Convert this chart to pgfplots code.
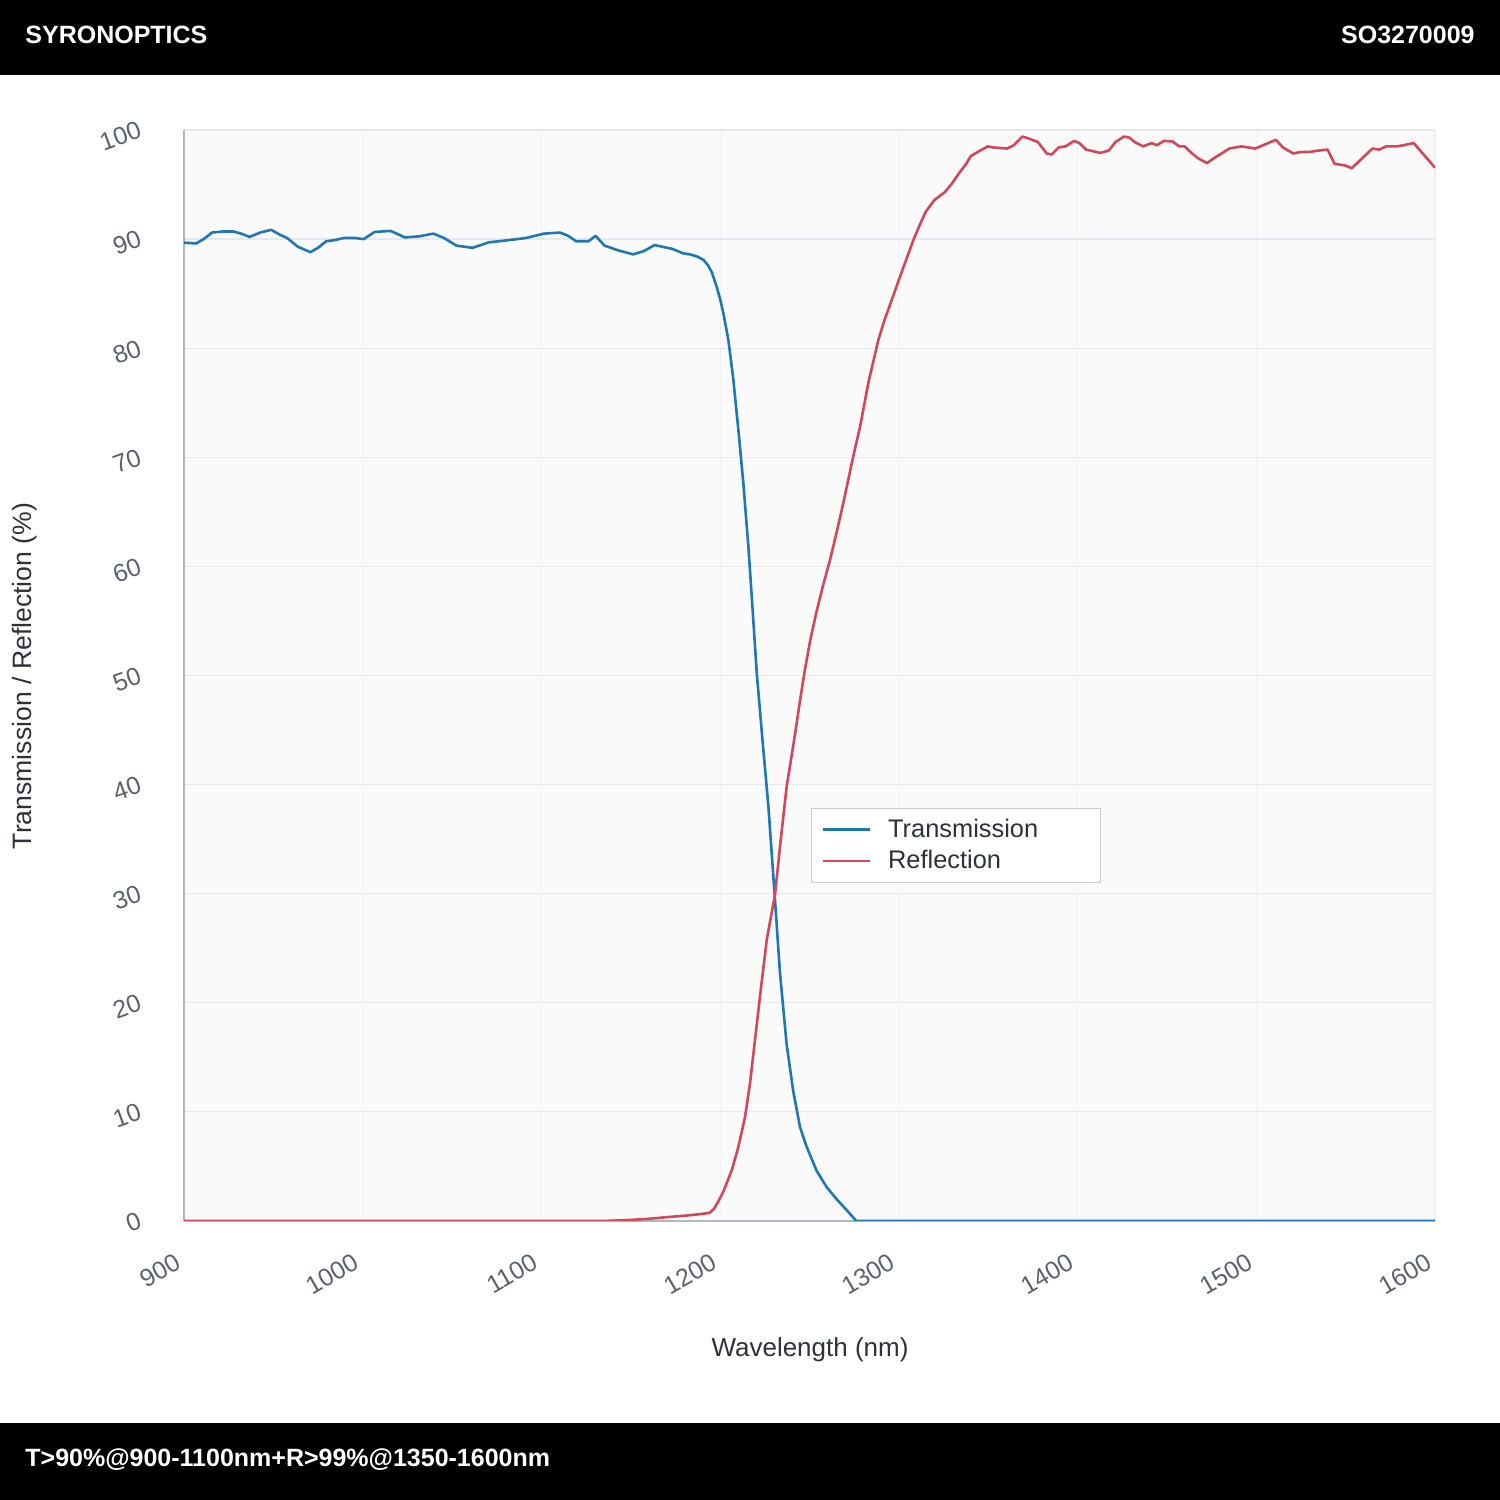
\documentclass[border=0pt]{standalone}
\usepackage{pgfplots}
\pgfplotsset{compat=1.18}
\usepackage{fontspec}
\setmainfont{Liberation Sans}
\definecolor{tblue}{RGB}{31,119,180}
\definecolor{rred}{RGB}{214,69,90}
\definecolor{ticklab}{RGB}{90,98,110}
\definecolor{gridc}{RGB}{230,232,236}
\definecolor{vgridc}{RGB}{240,241,243}
\definecolor{axisc}{RGB}{176,184,196}
\definecolor{plotbg}{RGB}{250,250,250}
\definecolor{labc}{RGB}{45,50,58}
\definecolor{legc}{RGB}{200,205,212}

\pgfplotstableread{
x y
900 89.67
906.8 89.6
911 90.0
915.8 90.6
921.8 90.7
927.7 90.7
932 90.5
936.7 90.2
942.7 90.6
948.7 90.85
953.7 90.4
957.7 90.1
963.7 89.3
970.7 88.8
975 89.2
979.6 89.8
984 89.9
989.6 90.1
995.6 90.1
1000.6 90.0
1006.6 90.65
1011 90.7
1015.6 90.75
1019 90.5
1023.6 90.15
1031.5 90.25
1039.5 90.5
1045.5 90.1
1052.5 89.4
1061.5 89.2
1070.5 89.7
1081.4 89.9
1091.4 90.1
1101.4 90.5
1110.4 90.6
1115 90.3
1119.4 89.8
1126.3 89.8
1130.3 90.3
1135.3 89.4
1143.3 88.95
1151.3 88.6
1157.3 88.9
1163.3 89.45
1173.3 89.1
1179.2 88.7
1183.1 88.6
1187.2 88.4
1190.6 88.1
1193.2 87.6
1195.5 86.9
1198.1 85.6
1200 84.5
1201.8 83.2
1204.6 80.75
1207.4 77.1
1210.2 72.5
1213.0 67.6
1215.8 61.8
1217.7 57.2
1220.5 50.2
1224.0 43.5
1227.0 38.0
1230.7 29.4
1233.5 22.7
1237.2 16.2
1240.9 11.9
1244.7 8.6
1248.4 6.8
1254.0 4.6
1259.6 3.1
1265.2 2.0
1270.8 1.0
1276.2 0
1600 0
}\trans

\pgfplotstableread{
x y
900 0
1135 0
1150 0.1
1160 0.2
1170 0.35
1181 0.5
1190 0.65
1194 0.75
1196.5 1.1
1199 1.8
1201.8 2.7
1204 3.6
1206.8 4.8
1210.2 6.8
1213.9 9.5
1216.7 12.6
1219.5 16.6
1222.3 20.6
1226.1 25.8
1230.7 29.9
1233.5 34.3
1237.2 39.8
1241.9 44.6
1244.5 47.5
1247.5 50.6
1250.5 53.3
1254.0 55.9
1257.5 58.2
1261.5 60.6
1265 63.0
1268.9 65.8
1274.5 70.1
1278.3 72.8
1282.9 76.8
1288.5 80.75
1292 82.6
1295.1 84.0
1298.8 85.7
1303.4 87.8
1308.1 89.9
1310.9 91.0
1315 92.5
1320.0 93.6
1325.7 94.3
1329.6 95.07
1334.4 96.2
1337.3 96.8
1340.2 97.6
1345.0 98.07
1349.8 98.5
1352.7 98.4
1360.5 98.3
1364.3 98.6
1369.1 99.4
1373.0 99.2
1377.8 98.9
1382.7 97.85
1385.5 97.75
1389.4 98.4
1393.3 98.5
1398.1 99.0
1401.0 98.8
1404.8 98.2
1412.6 97.9
1417.4 98.1
1421.2 98.9
1426.0 99.4
1429.0 99.3
1431.9 98.9
1436.7 98.5
1441.5 98.8
1444.4 98.6
1448.3 99.0
1453.1 98.95
1456.9 98.5
1459.8 98.5
1463.7 97.9
1467.5 97.4
1472.4 96.96
1476.2 97.4
1481.1 97.9
1484.9 98.3
1491.7 98.5
1499.4 98.3
1505.2 98.7
1511.0 99.1
1514.9 98.4
1520.6 97.85
1524.5 97.97
1530.3 98.0
1534.1 98.1
1539.9 98.2
1543.8 96.9
1549.6 96.75
1553.4 96.5
1559.2 97.4
1565.0 98.3
1568.8 98.2
1572.7 98.5
1578.5 98.5
1582.3 98.6
1588.1 98.8
1593.9 97.7
1599.7 96.6
1600 96.6
}\refl

\begin{document}
\begin{tikzpicture}[x=1pt,y=1pt]
\fill[white] (0,0) rectangle (750,750);
\fill[black] (0,712.5) rectangle (750,750);
\fill[black] (0,0) rectangle (750,38.5);
\node[anchor=west,text=white,inner sep=0pt,font=\fontsize{12.5}{14}\selectfont\bfseries] at (12.5,732.5) {SYRONOPTICS};
\node[anchor=east,text=white,inner sep=0pt,font=\fontsize{12.5}{14}\selectfont\bfseries] at (737.5,732.5) {SO3270009};
\node[anchor=west,text=white,inner sep=0pt,font=\fontsize{12.5}{14}\selectfont\bfseries] at (12.5,20) {T>90\%@900-1100nm+R>99\%@1350-1600nm};

\begin{axis}[
  at={(92pt,139.5pt)}, anchor=south west,
  width=625.5pt, height=545.5pt, scale only axis,
  xmin=900, xmax=1600, ymin=0, ymax=100,
  xtick={900,1000,...,1600}, ytick={0,10,...,100},
  axis background/.style={fill=plotbg},
  xmajorgrids, ymajorgrids,
  x grid style={vgridc, line width=0.6pt},
  y grid style={gridc, line width=0.6pt},
  axis x line*=bottom, axis y line*=left,
  axis line style={axisc, line width=1pt, -},
  major tick length=0pt,
  /pgf/number format/assume math mode=true,
  /pgf/number format/1000 sep={},
  xticklabel style={xshift=0pt, yshift=-18pt, rotate=30, anchor=east, text=ticklab, font=\fontsize{12.5}{14}\selectfont},
  yticklabel style={xshift=-18.7pt, yshift=1.7pt, rotate=20, anchor=east, text=ticklab, font=\fontsize{12.5}{14}\selectfont},
  legend style={at={(axis cs:1250.8,37.9)}, anchor=north west, draw=legc, fill=white,
    font=\fontsize{12.7}{14}\selectfont, text=labc, inner xsep=5pt, inner ysep=3pt,
    row sep=0pt, nodes={inner sep=2.5pt}},
  legend cell align=left,
  legend image code/.code={\draw[#1, line width=1.4pt] (0pt,0pt) -- (23.5pt,0pt);},
]
\addplot[tblue, line width=1.3pt, line join=round] table[x=x,y=y] {\trans};
\addlegendentry{\hspace*{6pt}Transmission\hspace*{23.5pt}}
\addplot[rred, line width=1.3pt, line join=round] table[x=x,y=y] {\refl};
\addlegendentry{\hspace*{6pt}Reflection}
\end{axis}

\node[text=labc, font=\fontsize{13}{15}\selectfont] at (405,75) {Wavelength (nm)};
\node[text=labc, font=\fontsize{13.3}{15}\selectfont, rotate=90] at (12.5,412) {Transmission / Reflection (\%)};
\end{tikzpicture}
\end{document}
